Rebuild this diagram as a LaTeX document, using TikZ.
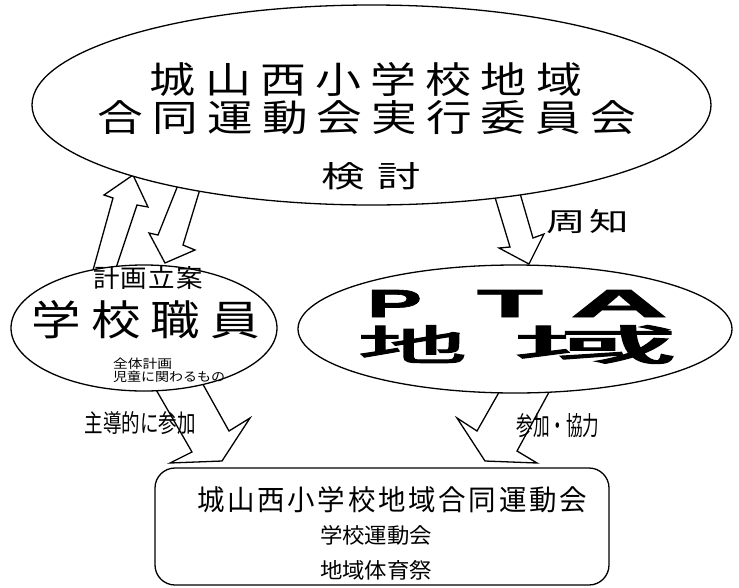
\documentclass[tikz,border=0pt]{standalone}
\usepackage{fontspec}
\usepackage{graphicx}
\newfontfamily\cjk{Noto Sans CJK JP}
\newfontfamily\cjkbold[FakeBold=2.5]{Noto Sans CJK JP}
\newfontfamily\latb[FakeBold=1.5]{Liberation Sans Bold}
\usetikzlibrary{shapes.geometric}
\newcommand\fitto[3]{\resizebox{#1pt}{#2pt}{#3}}
\def\sploop#1{\ifx#1\relax\else\kern\spgap#1\expandafter\sploop\fi}
\def\spfirst#1{#1\sploop}
\newcommand\spaced[2]{\def\spgap{#1}\spfirst#2\relax}
\tikzset{
  blk/.style={draw=black, fill=white, line width=1.3pt, line join=miter},
  ell/.style={ellipse, draw=black, fill=white, line width=1.3pt, inner sep=0pt},
  txt/.style={inner sep=0pt, outer sep=0pt},
}
\begin{document}
\begin{tikzpicture}[x=1pt,y=-1pt]
\useasboundingbox (0,0) rectangle (739,587);
% block arrows
\draw[blk] (90,281) -- (113,198) -- (104,195) -- (133,175) -- (148,207) -- (137,205) -- (114,274) -- cycle;
\draw[blk] (182,175) -- (158,235) -- (149,233) -- (165,263) -- (195,250) -- (183,245) -- (204,176) -- cycle;
\draw[blk] (491,184) -- (510,247) -- (499,248) -- (529,264) -- (544,234) -- (533,238) -- (517,183) -- cycle;
\draw[blk] (151,381) -- (192,452) -- (170,463) -- (222,461) -- (250,418) -- (229,431) -- (200,379) -- cycle;
\draw[blk] (502,387) -- (477,431) -- (457,418) -- (485,461) -- (537,463) -- (517,451) -- (554,383) -- cycle;
% shapes
\node[ell, minimum width=679pt, minimum height=200pt] (top) at (371.5,105) {};
\node[ell, minimum width=266pt, minimum height=126pt] (staff) at (144,328) {};
\node[ell, minimum width=434pt, minimum height=128pt] (pta) at (515,329) {};
\node[draw=black, fill=white, line width=1.3pt, rounded corners=20pt, minimum width=454pt, minimum height=117pt] (event) at (382,526.5) {};
% texts in top ellipse
\node[txt] (t1) at (366,80) {\fitto{432}{31}{\cjk\spaced{0.2em}{城山西小学校地域}}};
\node[txt] (t2) at (367,118) {\fitto{538}{31}{\cjk\spaced{0.2em}{合同運動会実行委員会}}};
\node[txt] (t3) at (371,176) {\fitto{100}{25}{\cjk\spaced{0.3em}{検討}}};
% staff ellipse
\node[txt] (s1) at (148,278) {\fitto{110}{21}{\cjk\spaced{0.05em}{計画立案}}};
\node[txt] (s2) at (146,320) {\fitto{228}{35}{\cjk\spaced{0.2em}{学校職員}}};
\node[txt, anchor=west] (s3) at (113,363.5) {\fitto{59}{10.5}{\cjk 全体計画}};
\node[txt, anchor=west] (s4) at (113,376.5) {\fitto{112}{10.5}{\cjk 児童に関わるもの}};
% pta ellipse
\node[txt] (p1) at (517.5,303.5) {\fitto{55}{27}{\latb P}\hspace{55pt}\fitto{66}{27}{\latb T}\hspace{27pt}\fitto{98}{27}{\latb A}};
\node[txt] (p2) at (518,344.5) {\fitto{109}{35}{\cjkbold 地}\hspace{46pt}\fitto{165}{35}{\cjkbold 域}};
% arrow labels
\node[txt] (l1) at (588,222) {\fitto{83}{22}{\cjk\spaced{0.1em}{周知}}};
\node[txt] (l2) at (140,423) {\fitto{111}{21}{\cjk 主導的に参加}};
\node[txt] (l3) at (558,426) {\fitto{83}{22}{\cjk 参加・協力}};
% event box
\node[txt] (e1) at (392,500) {\fitto{390}{24}{\cjk\spaced{0.1em}{城山西小学校地域合同運動会}}};
\node[txt] (e2) at (376,535) {\fitto{112}{18}{\cjk 学校運動会}};
\node[txt] (e3) at (376,570) {\fitto{112}{18}{\cjk 地域体育祭}};
\end{tikzpicture}
\end{document}
